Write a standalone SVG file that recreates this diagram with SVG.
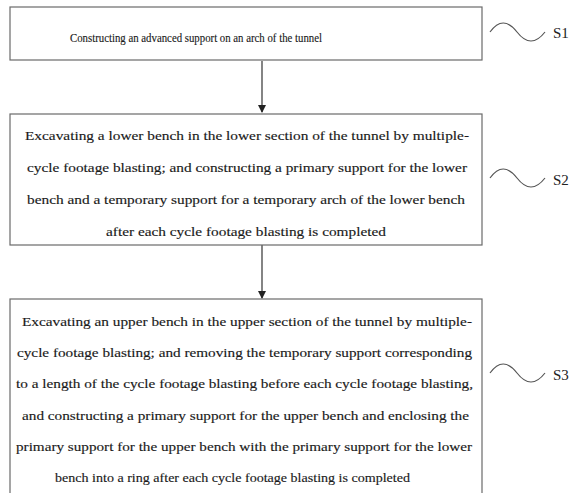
<svg xmlns="http://www.w3.org/2000/svg" width="574" height="493" viewBox="0 0 574 493">
  <style>
    .box { fill: #ffffff; stroke: #6a6a6a; stroke-width: 1.2; }
    .txt { font-family: "Liberation Serif", "Times New Roman", serif; font-size: 13px; fill: #1a1a1a; stroke: #1a1a1a; stroke-width: 0.15; }
    .lbl { font-family: "Liberation Serif", "Times New Roman", serif; font-size: 15px; fill: #222; }
    .wave { fill: none; stroke: #555; stroke-width: 1.2; }
    .conn { stroke: #333; stroke-width: 1.2; fill: none; }
  </style>
  <defs>
    <marker id="arrow" markerWidth="8" markerHeight="8" refX="7" refY="4" orient="auto" markerUnits="userSpaceOnUse">
      <path d="M0,0 L8,4 L0,8 Z" fill="#222"/>
    </marker>
  </defs>
  <rect width="574" height="493" fill="#ffffff"/>

  <g id="connectors">
    <line class="conn" x1="262" y1="61" x2="262" y2="112" marker-end="url(#arrow)"/>
    <line class="conn" x1="262" y1="245" x2="262" y2="298" marker-end="url(#arrow)"/>
  </g>

  <g id="s1">
    <rect class="box" x="10" y="7" width="472" height="53"/>
    <text class="txt" x="70" y="42" textLength="252" lengthAdjust="spacingAndGlyphs">Constructing an advanced support on an arch of the tunnel</text>
    <path class="wave" d="M490,32 Q503,14 517,32 T545,32"/>
    <text class="lbl" x="553" y="38">S1</text>
  </g>

  <g id="s2">
    <rect class="box" x="10" y="114" width="472" height="131"/>
    <text class="txt" x="25" y="140" textLength="444" lengthAdjust="spacingAndGlyphs">Excavating a lower bench in the lower section of the tunnel by multiple-</text>
    <text class="txt" x="27" y="172" textLength="440" lengthAdjust="spacingAndGlyphs">cycle footage blasting; and constructing a primary support for the lower</text>
    <text class="txt" x="27" y="204" textLength="438" lengthAdjust="spacingAndGlyphs">bench and a temporary support for a temporary arch of the lower bench</text>
    <text class="txt" x="106" y="236" textLength="280" lengthAdjust="spacingAndGlyphs">after each cycle footage blasting is completed</text>
    <path class="wave" d="M490,178 Q503,160 517,178 T545,178"/>
    <text class="lbl" x="553" y="185">S2</text>
  </g>

  <g id="s3">
    <rect class="box" x="10" y="299" width="472" height="210"/>
    <text class="txt" x="22" y="326" textLength="450" lengthAdjust="spacingAndGlyphs">Excavating an upper bench in the upper section of the tunnel by multiple-</text>
    <text class="txt" x="17" y="357" textLength="455" lengthAdjust="spacingAndGlyphs">cycle footage blasting; and removing the temporary support corresponding</text>
    <text class="txt" x="16" y="388" textLength="457" lengthAdjust="spacingAndGlyphs">to a length of the cycle footage blasting before each cycle footage blasting,</text>
    <text class="txt" x="22" y="420" textLength="447" lengthAdjust="spacingAndGlyphs">and constructing a primary support for the upper bench and enclosing the</text>
    <text class="txt" x="16" y="451" textLength="456" lengthAdjust="spacingAndGlyphs">primary support for the upper bench with the primary support for the lower</text>
    <text class="txt" x="55" y="482" textLength="355" lengthAdjust="spacingAndGlyphs">bench into a ring after each cycle footage blasting is completed</text>
    <path class="wave" d="M490,373 Q503,355 517,373 T545,373"/>
    <text class="lbl" x="553" y="380">S3</text>
  </g>
</svg>
